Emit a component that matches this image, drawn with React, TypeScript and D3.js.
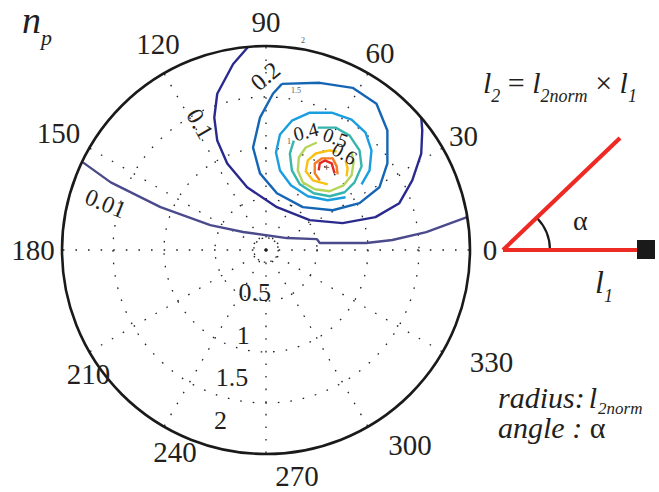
import React from "react";
import * as d3 from "d3";

// contour levels and their colours (jet-like)
const levels = [0.01, 0.1, 0.2, 0.3, 0.4, 0.5, 0.6, 0.7, 0.8];
const levelColors = ["#4a4a8c", "#2a2a8e", "#1565b5", "#1a9ee0", "#35b5ac", "#b5d55a", "#fcc010", "#f57c22", "#e52a24"];

// contour polylines, cartesian data units (radius = l2norm, max 2)
const c001 = [[-1.795, 0.859], [-1.522, 0.663], [-1.034, 0.42], [-0.546, 0.244], [-0.224, 0.176], [0.205, 0.117], [0.498, 0.107], [0.527, 0.068], [0.985, 0.068], [1.239, 0.098], [1.571, 0.176], [1.971, 0.322]];
const c01 = [[-0.176, 1.99], [-0.322, 1.824], [-0.478, 1.532], [-0.507, 1.298], [-0.478, 1.073], [-0.38, 0.849], [-0.185, 0.615], [0.107, 0.42], [0.429, 0.293], [0.751, 0.263], [1.073, 0.322], [1.307, 0.459], [1.434, 0.683], [1.522, 0.946], [1.532, 1.171], [1.522, 1.298]];
const c02 = [[0.156, 1.629], [0.527, 1.639], [0.849, 1.59], [1.083, 1.434], [1.19, 1.171], [1.19, 0.849], [1.112, 0.615], [0.917, 0.459], [0.654, 0.39], [0.361, 0.42], [0.107, 0.556], [-0.059, 0.751], [-0.127, 1.005], [-0.059, 1.298], [0.068, 1.532], [0.156, 1.629]];
const c03 = [[0.937, 0.644], [1.015, 0.78], [1.034, 0.976], [0.976, 1.151], [0.839, 1.278], [0.644, 1.346], [0.429, 1.346], [0.254, 1.268], [0.137, 1.132], [0.098, 0.956], [0.137, 0.78], [0.244, 0.634], [0.41, 0.527], [0.605, 0.488], [0.78, 0.517]];
const c04 = [[0.507, 1.2], [0.683, 1.2], [0.82, 1.122], [0.917, 0.976], [0.937, 0.82], [0.868, 0.663], [0.771, 0.566], [0.624, 0.527], [0.468, 0.556], [0.332, 0.644], [0.254, 0.78], [0.234, 0.946], [0.273, 1.073]];
const c05 = [[0.839, 0.956], [0.859, 0.859], [0.839, 0.732], [0.761, 0.634], [0.624, 0.576], [0.478, 0.595], [0.361, 0.663], [0.312, 0.78], [0.322, 0.907], [0.39, 1.005], [0.498, 1.054]];
const c06a = [[0.605, 0.644], [0.459, 0.683], [0.39, 0.771], [0.41, 0.878], [0.488, 0.946], [0.624, 0.976], [0.693, 0.966]];
const c06b = [[0.78, 0.878], [0.8, 0.8], [0.79, 0.722]];
const c07 = [[0.527, 0.683], [0.478, 0.751], [0.478, 0.849], [0.546, 0.898], [0.654, 0.898], [0.693, 0.82], [0.702, 0.741]];
const c08 = [[0.517, 0.78], [0.527, 0.849], [0.576, 0.878], [0.644, 0.849], [0.673, 0.751]];
const contourSegments = [[c001], [c01], [c02], [c03], [c04], [c05], [c06a, c06b], [c07], [c08]];
const peak = [0.595, 0.81];

const contourLabels = [
  { text: "0.01", x: -1.571, y: 0.459, rot: 22, big: true },
  { text: "0.1", x: -0.644, y: 1.239, rot: 60, big: true },
  { text: "0.2", x: -0.01, y: 1.707, rot: -40, big: true },
  { text: "0.4", x: 0.39, y: 1.161, rot: -15, big: false },
  { text: "0.5", x: 0.683, y: 1.102, rot: 20, big: false },
  { text: "0.6", x: 0.771, y: 0.946, rot: 30, big: false },
];

const angleTicks = [0, 30, 60, 90, 120, 150, 180, 210, 240, 270, 300, 330];
const radialTicks = [0.5, 1, 1.5, 2];
const gridRings = [0.12, 0.5, 1, 1.5];
const smallRadialTicks = [1, 1.5, 2];
const rMax = 2;

const W = 659;
const H = 492;
const cx = 266;
const cy = 250;
const R = 204;
const serif = "Liberation Serif, Times New Roman, serif";
const ink = "#231f20";

// hand nudges for angle labels as placed in the original figure
const labelNudge: Record<number, [number, number]> = {
  0: [-4, 0], 120: [6, -9], 150: [-10, -3], 180: [-5, 0],
  210: [20, 10], 240: [23, 4], 270: [31, -2], 300: [30, -3], 330: [28, -2],
};

export default function App() {
  const x = d3.scaleLinear().domain([-rMax, rMax]).range([cx - R, cx + R]);
  const y = d3.scaleLinear().domain([-rMax, rMax]).range([cy + R, cy - R]);
  const rs = d3.scaleLinear().domain([0, rMax]).range([0, R]);
  const line = d3.line<number[]>().x((d) => x(d[0])).y((d) => y(d[1]));
  const rad = (deg: number) => (deg * Math.PI) / 180;
  const dotted = { stroke: "#222", strokeWidth: 1.3, strokeDasharray: "1.6 11", fill: "none" };

  return (
    <svg width={W} height={H} style={{ position: "absolute", left: 0, top: 0, background: "#fff" }}>
      {/* grid */}
      {gridRings.map((r) => (
        <circle key={r} cx={cx} cy={cy} r={rs(r)} {...dotted} strokeDasharray={r < 0.3 ? "1.6 5" : "1.6 11"} />
      ))}
      {angleTicks.map((a) => (
        <line key={a} x1={cx} y1={cy} x2={cx + R * Math.cos(rad(a))} y2={cy - R * Math.sin(rad(a))} {...dotted} />
      ))}

      {/* contours */}
      {contourSegments.map((segs, i) =>
        segs.map((s, j) => (
          <path key={`${i}-${j}`} d={line(s) || ""} fill="none" stroke={levelColors[i]} strokeWidth={2.4} strokeLinejoin="round" />
        ))
      )}
      <g stroke="#8a5a50" strokeWidth={1}>
        <line x1={x(peak[0]) - 2.5} x2={x(peak[0]) + 2.5} y1={y(peak[1])} y2={y(peak[1])} />
        <line x1={x(peak[0])} x2={x(peak[0])} y1={y(peak[1]) - 2.5} y2={y(peak[1]) + 2.5} />
      </g>

      {/* contour labels */}
      {contourLabels.map((l) => (
        <text
          key={l.text}
          transform={`translate(${x(l.x)},${y(l.y)}) rotate(${l.rot})`}
          textAnchor="middle"
          dy="0.35em"
          fontFamily={serif}
          fontSize={l.big ? 24 : 20}
          fill={ink}
        >
          {l.text}
        </text>
      ))}

      {/* outer circle */}
      <circle cx={cx} cy={cy} r={R} fill="none" stroke="#1a1a1a" strokeWidth={2.6} />

      {/* tiny default radial labels */}
      {smallRadialTicks.map((r) => (
        <text
          key={r}
          x={cx + (rs(r) + 5) * Math.cos(rad(82)) + 8}
          y={cy - (rs(r) + 5) * Math.sin(rad(82)) - 3}
          dy="0.35em"
          textAnchor="middle"
          fontFamily={serif}
          fontSize={8}
          fill="#555"
        >
          {r}
        </text>
      ))}

      {/* radial labels */}
      {radialTicks.map((r) => (
        <text
          key={r}
          x={cx + rs(r) * 0.86 * Math.cos(rad(255))}
          y={cy - rs(r) * 0.86 * Math.sin(rad(255))}
          dy="0.35em"
          textAnchor="middle"
          fontFamily={serif}
          fontSize={26}
          fill={ink}
        >
          {r}
        </text>
      ))}

      {/* angle labels */}
      {angleTicks.map((a) => {
        const n = labelNudge[a] || [0, 0];
        return (
          <text
            key={a}
            x={cx + 228 * Math.cos(rad(a)) + n[0]}
            y={cy - 228 * Math.sin(rad(a)) + n[1]}
            dy="0.35em"
            textAnchor="middle"
            fontFamily={serif}
            fontSize={29}
            fill={ink}
          >
            {a}
          </text>
        );
      })}

      {/* n_p */}
      <text x={22} y={33} fontFamily={serif} fontStyle="italic" fontSize={38} fill={ink}>
        n<tspan fontSize={22} dy={12}>p</tspan>
      </text>

      {/* formula */}
      <text x={483} y={93} fontFamily={serif} fontStyle="italic" fontSize={30} fill={ink}>
        l<tspan fontSize={18} dy={9}>2</tspan>
        <tspan dy={-9} fontStyle="normal">{" = "}</tspan>
        <tspan>l</tspan>
        <tspan fontSize={18} dy={9}>2norm</tspan>
        <tspan dy={-9} fontStyle="normal">{" × "}</tspan>
        <tspan>l</tspan>
        <tspan fontSize={18} dy={9}>1</tspan>
      </text>

      {/* angle diagram */}
      <g>
        <path d="M537,218 A46,46 0 0 1 550,250" fill="none" stroke="#1a1a1a" strokeWidth={2.2} />
        <line x1={503} y1={250} x2={640} y2={250} stroke="#ee2a24" strokeWidth={4.2} />
        <line x1={503} y1={250} x2={620} y2={138} stroke="#ee2a24" strokeWidth={4.2} />
        <rect x={637} y={240} width={18} height={19} fill="#1a1a1a" />
        <text x={573} y={230} fontFamily={serif} fontSize={28} fill={ink}>α</text>
        <text x={595} y={293} fontFamily={serif} fontStyle="italic" fontSize={32} fill={ink}>
          l<tspan fontSize={18} dy={9}>1</tspan>
        </text>
      </g>

      {/* legend text */}
      <text x={498} y={408} fontFamily={serif} fontStyle="italic" fontSize={30} fill={ink}>
        radius:<tspan dx={4}>l</tspan>
        <tspan fontSize={17} dy={6} dx={1}>2norm</tspan>
      </text>
      <text x={498} y={438} fontFamily={serif} fontStyle="italic" fontSize={30} fill={ink}>
        {"angle : "}<tspan fontStyle="normal">α</tspan>
      </text>
    </svg>
  );
}
